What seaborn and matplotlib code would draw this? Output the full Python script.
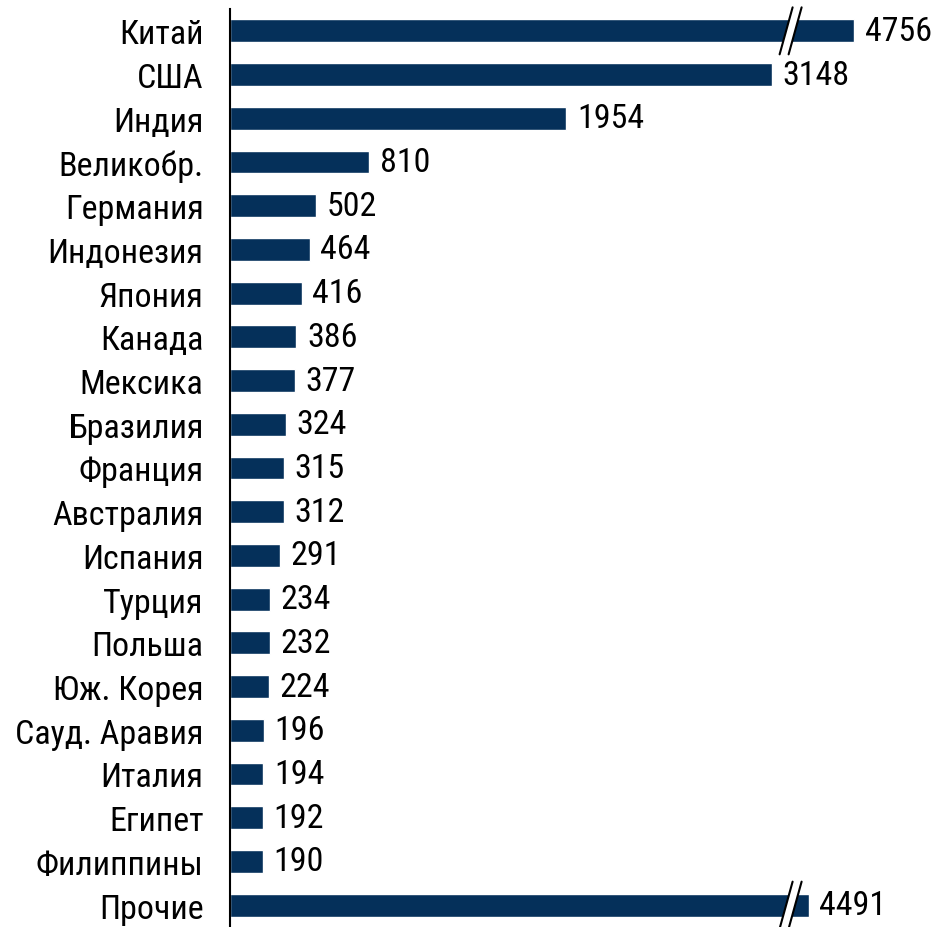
import matplotlib
matplotlib.use("Agg")
import matplotlib.pyplot as plt
from matplotlib.patches import Polygon
from matplotlib.lines import Line2D
from matplotlib.transforms import IdentityTransform
import numpy as np
import seaborn as sns

countries = ['Китай', 'США', 'Индия', 'Великобр.', 'Германия', 'Индонезия',
             'Япония', 'Канада', 'Мексика', 'Бразилия', 'Франция', 'Австралия',
             'Испания', 'Турция', 'Польша', 'Юж. Корея', 'Сауд. Аравия',
             'Италия', 'Египет', 'Филиппины', 'Прочие']
values = [4756, 3148, 1954, 810, 502, 464, 416, 386, 377, 324, 315, 312,
          291, 234, 232, 224, 196, 194, 192, 190, 4491]

BAR_COLOR = '#05305A'

# broken x axis: values between GAP_LO and GAP_HI are squeezed almost to nothing
GAP_LO, GAP_HI, SQUEEZE = 3250.0, 4391.0, 0.01
GAP_W = (GAP_HI - GAP_LO) * SQUEEZE
BREAK_AT = 3800.0


def forward(x):
    x = np.asarray(x, dtype=float)
    return np.where(x <= GAP_LO, x,
                    np.where(x <= GAP_HI, GAP_LO + (x - GAP_LO) * SQUEEZE,
                             GAP_LO + GAP_W + (x - GAP_HI)))


def inverse(y):
    y = np.asarray(y, dtype=float)
    return np.where(y <= GAP_LO, y,
                    np.where(y <= GAP_LO + GAP_W, GAP_LO + (y - GAP_LO) / SQUEEZE,
                             GAP_HI + (y - GAP_LO - GAP_W)))


sns.set_theme(style='white')
plt.rcParams['font.family'] = ['Roboto Condensed', 'DejaVu Sans']

FS = 24.5

fig = plt.figure(figsize=(9.4, 9.28), dpi=100)
ax = fig.add_axes([230 / 940, 0.0, 1 - 230 / 940, 1 - 10 / 928])

sns.barplot(x=values, y=countries, orient='h', color=BAR_COLOR, saturation=1,
            width=0.52, ax=ax)

ax.set_xscale('function', functions=(forward, inverse))
ax.set_xlim(0, float(inverse(4123.0)))
ax.set_ylim(len(countries) - 0.5, -0.5)

for c in ax.containers:
    ax.bar_label(c, labels=[f'{v:d}' for v in values], padding=7.5,
                 fontsize=FS, color='black')

ax.set_xlabel('')
ax.set_ylabel('')
ax.set_xticks([])
ax.tick_params(axis='y', length=0, pad=19, labelsize=FS, labelcolor='black')
for side in ('top', 'right', 'bottom'):
    ax.spines[side].set_visible(False)
ax.spines['left'].set_color('black')
ax.spines['left'].set_linewidth(1.5)

# break marks on the truncated bars
fig.canvas.draw()
for i, v in enumerate(values):
    if v > GAP_HI:
        cx, cy = ax.transData.transform((BREAK_AT, i))
        h = 23.5
        slant = 6.5
        gap = 9
        x0 = cx - gap / 2
        pts = [(x0 - slant, cy - h), (x0 + gap - slant, cy - h),
               (x0 + gap + slant, cy + h), (x0 + slant, cy + h)]
        ax.add_patch(Polygon(pts, closed=True, facecolor='white', edgecolor='none',
                             transform=IdentityTransform(), clip_on=False, zorder=5))
        for dx in (0, gap):
            ax.add_line(Line2D([x0 + dx - slant, x0 + dx + slant], [cy - h, cy + h],
                               color='black', lw=1.5, transform=IdentityTransform(),
                               clip_on=False, zorder=6))

fig.savefig('out.png', dpi=100)
